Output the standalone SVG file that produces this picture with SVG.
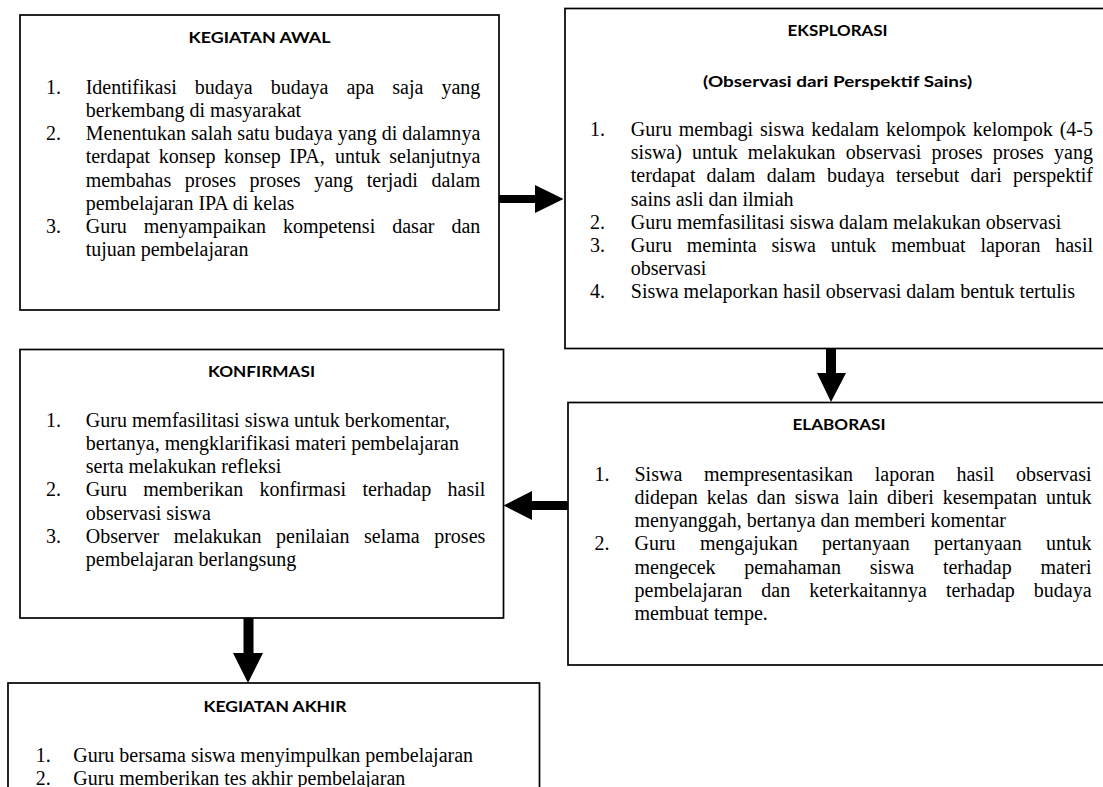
<svg xmlns="http://www.w3.org/2000/svg" width="1103" height="787" viewBox="0 0 1103 787">
<style>
.box{fill:#fff;stroke:#000;stroke-width:1.7}
.b{font-family:"Liberation Serif","Times New Roman",serif;font-size:20px;fill:#000}
.t{font-family:Lato,"Liberation Sans",sans-serif;font-weight:700;font-size:16px;fill:#000;text-anchor:middle}
.arrow{fill:#000;stroke:none}
</style>
<rect width="1103" height="787" fill="#fff"/>

<g id="node-kegiatan-awal">
<rect class="box" x="20" y="15" width="479" height="295"/>
<text class="t" x="259.5" y="43" textLength="142" lengthAdjust="spacingAndGlyphs">KEGIATAN AWAL</text>
<text class="b" x="46" y="93.8">1.</text>
<text class="b" y="93.8"><tspan x="85.7">Identifikasi</tspan><tspan x="194.85">budaya</tspan><tspan x="270.66">budaya</tspan><tspan x="346.47">apa</tspan><tspan x="392.28">saja</tspan><tspan x="441.43">yang</tspan></text>
<text class="b" x="85.7" y="117">berkembang di masyarakat</text>
<text class="b" x="46" y="140.2">2.</text>
<text class="b" x="85.7" y="140.2" textLength="394.6" lengthAdjust="spacing">Menentukan salah satu budaya yang di dalamnya</text>
<text class="b" y="163.4"><tspan x="85.7">terdapat</tspan><tspan x="158.72">konsep</tspan><tspan x="223.98">konsep</tspan><tspan x="289.24">IPA,</tspan><tspan x="335.06">untuk</tspan><tspan x="389.22">selanjutnya</tspan></text>
<text class="b" y="186.6"><tspan x="85.7">membahas</tspan><tspan x="184.84">proses</tspan><tspan x="249.54">proses</tspan><tspan x="314.24">yang</tspan><tspan x="366.72">terjadi</tspan><tspan x="431.42">dalam</tspan></text>
<text class="b" x="85.7" y="209.8">pembelajaran IPA di kelas</text>
<text class="b" x="46" y="233">3.</text>
<text class="b" y="233"><tspan x="85.7">Guru</tspan><tspan x="143.8">menyampaikan</tspan><tspan x="283">kompetensi</tspan><tspan x="392.22">dasar</tspan><tspan x="451.42">dan</tspan></text>
<text class="b" x="85.7" y="256.2">tujuan pembelajaran</text>
</g>

<g id="node-eksplorasi">
<rect class="box" x="565" y="8.5" width="560" height="340"/>
<text class="t" x="837.6" y="36" textLength="100" lengthAdjust="spacingAndGlyphs">EKSPLORASI</text>
<text class="t" x="837.6" y="87" textLength="269" lengthAdjust="spacingAndGlyphs">(Observasi dari Perspektif Sains)</text>
<text class="b" x="590" y="136">1.</text>
<text class="b" y="136"><tspan x="630.8">Guru</tspan><tspan x="678.76">membagi</tspan><tspan x="760.06">siswa</tspan><tspan x="811.36">kedalam</tspan><tspan x="885.98">kelompok</tspan><tspan x="972.84">kelompok</tspan><tspan x="1059.7">(4-5</tspan></text>
<text class="b" y="159.2"><tspan x="630.8">siswa)</tspan><tspan x="692.09">untuk</tspan><tspan x="747.84">melakukan</tspan><tspan x="845.79">observasi</tspan><tspan x="931.52">proses</tspan><tspan x="992.81">proses</tspan><tspan x="1054.1">yang</tspan></text>
<text class="b" y="182.4"><tspan x="630.8">terdapat</tspan><tspan x="706.53">dalam</tspan><tspan x="766.72">dalam</tspan><tspan x="826.91">budaya</tspan><tspan x="895.98">tersebut</tspan><tspan x="970.61">dari</tspan><tspan x="1013.02">perspektif</tspan></text>
<text class="b" x="630.8" y="205.6">sains asli dan ilmiah</text>
<text class="b" x="590" y="228.8">2.</text>
<text class="b" x="630.8" y="228.8">Guru memfasilitasi siswa dalam melakukan observasi</text>
<text class="b" x="590" y="252">3.</text>
<text class="b" y="252"><tspan x="630.8">Guru</tspan><tspan x="686.72">meminta</tspan><tspan x="771.54">siswa</tspan><tspan x="830.8">untuk</tspan><tspan x="891.18">membuat</tspan><tspan x="980.44">laporan</tspan><tspan x="1055.24">hasil</tspan></text>
<text class="b" x="630.8" y="275.2">observasi</text>
<text class="b" x="590" y="298.4">4.</text>
<text class="b" x="630.8" y="298.4">Siswa melaporkan hasil observasi dalam bentuk tertulis</text>
</g>

<g id="node-konfirmasi">
<rect class="box" x="20" y="349.5" width="483.5" height="268.5"/>
<text class="t" x="261.5" y="376.7" textLength="107" lengthAdjust="spacingAndGlyphs">KONFIRMASI</text>
<text class="b" x="46" y="426.7">1.</text>
<text class="b" x="85.8" y="426.7">Guru memfasilitasi siswa untuk berkomentar,</text>
<text class="b" x="85.8" y="449.9">bertanya, mengklarifikasi materi pembelajaran</text>
<text class="b" x="85.8" y="473.1">serta melakukan refleksi</text>
<text class="b" x="46" y="496.3">2.</text>
<text class="b" y="496.3"><tspan x="85.8">Guru</tspan><tspan x="143.18">memberikan</tspan><tspan x="259.44">konfirmasi</tspan><tspan x="362.38">terhadap</tspan><tspan x="447.52">hasil</tspan></text>
<text class="b" x="85.8" y="519.5">observasi siswa</text>
<text class="b" x="46" y="542.7">3.</text>
<text class="b" y="542.7"><tspan x="85.8">Observer</tspan><tspan x="173.72">melakukan</tspan><tspan x="276.1">penilaian</tspan><tspan x="364.04">selama</tspan><tspan x="434.2">proses</tspan></text>
<text class="b" x="85.8" y="565.9">pembelajaran berlangsung</text>
</g>

<g id="node-elaborasi">
<rect class="box" x="568" y="402.5" width="560" height="262.5"/>
<text class="t" x="839" y="430" textLength="93" lengthAdjust="spacingAndGlyphs">ELABORASI</text>
<text class="b" x="594.6" y="480.7">1.</text>
<text class="b" y="480.7"><tspan x="634.5">Siswa</tspan><tspan x="704.07">mempresentasikan</tspan><tspan x="874.72">laporan</tspan><tspan x="956.49">hasil</tspan><tspan x="1016.06">observasi</tspan></text>
<text class="b" y="503.9"><tspan x="634.5">didepan</tspan><tspan x="706.78">kelas</tspan><tspan x="756.84">dan</tspan><tspan x="794.68">siswa</tspan><tspan x="848.08">lain</tspan><tspan x="887.04">diberi</tspan><tspan x="942.66">kesempatan</tspan><tspan x="1046.04">untuk</tspan></text>
<text class="b" x="634.5" y="527.1">menyanggah, bertanya dan memberi komentar</text>
<text class="b" x="594.6" y="550.3">2.</text>
<text class="b" y="550.3"><tspan x="634.5">Guru</tspan><tspan x="699.9">mengajukan</tspan><tspan x="821.96">pertanyaan</tspan><tspan x="934">pertanyaan</tspan><tspan x="1046.04">untuk</tspan></text>
<text class="b" y="573.5"><tspan x="634.5">mengecek</tspan><tspan x="744.33">pemahaman</tspan><tspan x="869.71">siswa</tspan><tspan x="942.9">terhadap</tspan><tspan x="1040.5">materi</tspan></text>
<text class="b" y="596.7"><tspan x="634.5">pembelajaran</tspan><tspan x="761.27">dan</tspan><tspan x="809.18">keterkaitannya</tspan><tspan x="945.95">terhadap</tspan><tspan x="1033.84">budaya</tspan></text>
<text class="b" x="634.5" y="619.9">membuat tempe.</text>
</g>

<g id="node-kegiatan-akhir">
<rect class="box" x="8" y="683" width="531.5" height="200"/>
<text class="t" x="275" y="711.7" textLength="143" lengthAdjust="spacingAndGlyphs">KEGIATAN AKHIR</text>
<text class="b" x="35.7" y="762">1.</text>
<text class="b" x="73.2" y="762">Guru bersama siswa menyimpulkan pembelajaran</text>
<text class="b" x="35.7" y="785">2.</text>
<text class="b" x="73.2" y="785">Guru memberikan tes akhir pembelajaran</text>
</g>

<g id="connectors">
<path class="arrow" d="M499,195 H535 V185 L563.5,199 L535,213 V203 H499 Z"/>
<path class="arrow" d="M826,348 V373 H817 L831,402 L846,373 H836 V348 Z"/>
<path class="arrow" d="M568,501 H532 V491 L503.5,505.5 L532,520 V510 H568 Z"/>
<path class="arrow" d="M243.5,618 V653 H233 L248,683 L263,653 H253.5 V618 Z"/>
</g>
</svg>
